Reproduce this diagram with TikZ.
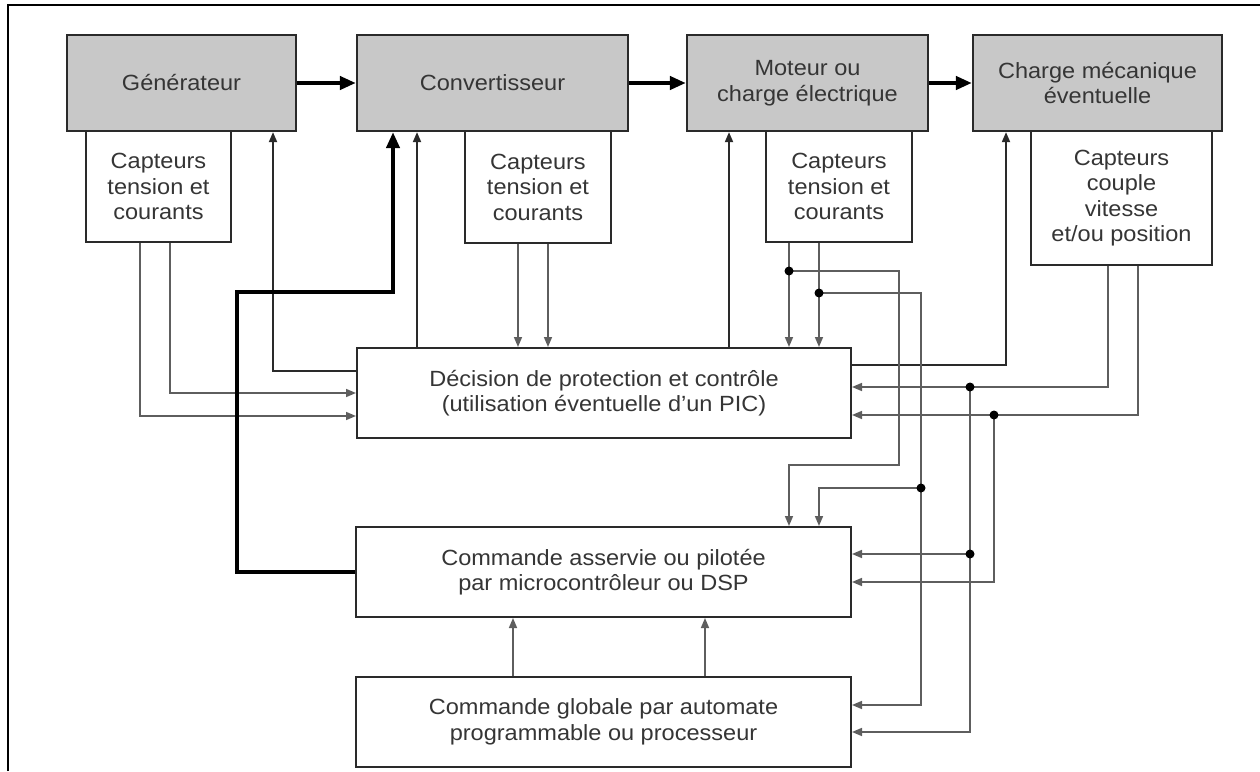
\documentclass[tikz,border=0pt]{standalone}
\usepackage{fontspec}
\setmainfont[FakeStretch=1.07]{Liberation Sans}
\usetikzlibrary{arrows.meta,calc}
\definecolor{boxgray}{HTML}{C8C8C8}
\definecolor{txtgray}{HTML}{353535}
\definecolor{linedark}{HTML}{2A2A2A}
\definecolor{linegray}{HTML}{5E5E5E}
\begin{document}
\begin{tikzpicture}[x=1pt,y=-1pt,
 every node/.style={font=\fontsize{22}{25.5}\selectfont, text=txtgray, align=center, inner sep=0pt},
 gbox/.style={draw=linedark, line width=2.2pt, fill=boxgray},
 wbox/.style={draw=linedark, line width=2pt, fill=white},
 ctl/.style={draw=linedark, line width=1.8pt, -{Triangle[length=10pt,width=8pt]}},
 sen/.style={draw=linegray, line width=1.6pt, -{Triangle[length=10pt,width=8pt]}},
 bigarrow/.style={draw=black, line width=4pt, line join=miter, -{Triangle[length=16pt,width=13pt]}},
 dot/.style={circle, fill=black, minimum size=9pt, inner sep=0pt}
]
\useasboundingbox (0,0) rectangle (1260,771);
\draw[line width=2pt] (8,771) -- (8,5) -- (1260,5);

% sensor boxes
\node[wbox, minimum width=145pt, minimum height=111pt] (gs) at (158.5,186.5) {Capteurs\\tension et\\courants};
\node[wbox, minimum width=146pt, minimum height=112pt] (cs) at (538,187) {Capteurs\\tension et\\courants};
\node[wbox, minimum width=146pt, minimum height=111pt] (ms) at (839,186.5) {Capteurs\\tension et\\courants};
\node[wbox, minimum width=181pt, minimum height=134pt] (chs) at (1121.5,198) {Capteurs\\couple\\vitesse\\et/ou position};

% main gray boxes
\node[gbox, minimum width=229pt, minimum height=96pt] (gen) at (181.5,83) {Générateur};
\node[gbox, minimum width=271pt, minimum height=96pt] (conv) at (492.5,83) {Convertisseur};
\node[gbox, minimum width=241pt, minimum height=96pt] (mot) at (807.5,83) {Moteur ou\\charge électrique};
\node[gbox, minimum width=249pt, minimum height=96pt] (cha) at (1097.5,83) {Charge mécanique\\éventuelle};

% control boxes
\node[wbox, minimum width=494pt, minimum height=90pt] (dec) at (604,393) {Décision de protection et contrôle\\(utilisation éventuelle d'un PIC)};
\node[wbox, minimum width=495pt, minimum height=90pt] (asv) at (603.5,572) {Commande asservie ou pilotée\\par microcontrôleur ou DSP};
\node[wbox, minimum width=495pt, minimum height=90pt] (glob) at (603.5,722) {Commande globale par automate\\programmable ou processeur};

% columns
\coordinate (cA) at (140,0);  \coordinate (cB) at (170,0);
\coordinate (cG) at (273,0);  \coordinate (cT) at (237,0);
\coordinate (cTh) at (393,0); \coordinate (cC) at (417,0);
\coordinate (cD) at (518,0);  \coordinate (cE) at (548,0);
\coordinate (cM) at (729,0);  \coordinate (cF) at (789,0);
\coordinate (cH) at (819,0);  \coordinate (cI) at (899,0);
\coordinate (cJ) at (921,0);  \coordinate (cK) at (970,0);
\coordinate (cL) at (994,0);  \coordinate (cN) at (1006,0);
\coordinate (cO) at (1108,0); \coordinate (cP) at (1138,0);
\coordinate (cQ) at (513,0);  \coordinate (cR) at (705,0);
% rows
\coordinate (rA) at (0,393);  \coordinate (rB) at (0,416);
\coordinate (rG) at (0,371);  \coordinate (rTh) at (0,292);
\coordinate (rF) at (0,271);  \coordinate (rH) at (0,293);
\coordinate (rI) at (0,465);  \coordinate (rJ) at (0,705);
\coordinate (rJ2) at (0,488); \coordinate (rN) at (0,365);
\coordinate (rO) at (0,387);  \coordinate (rP) at (0,415);
\coordinate (rK) at (0,732);  \coordinate (rK2) at (0,554);
\coordinate (rL) at (0,582);

% power chain
\draw[bigarrow] (gen.east) -- (conv.west);
\draw[bigarrow] (conv.east) -- (mot.west);
\draw[bigarrow] (mot.east) -- (cha.west);

% generator sensors
\draw[sen] (gs.south -| cA) |- (dec.west |- rB);
\draw[sen] (gs.south -| cB) |- (dec.west |- rA);
\draw[ctl] (dec.west |- rG) -| (gen.south -| cG);

% thick command to converter
\draw[bigarrow] (asv.west) -- (asv.west -| cT) |- (cTh |- rTh) -- (conv.south -| cTh);

% decision to converter / motor / load
\draw[ctl] (dec.north -| cC) -- (conv.south -| cC);
\draw[ctl] (dec.north -| cM) -- (mot.south -| cM);
\draw[ctl] (dec.east |- rN) -| (cha.south -| cN);

% converter sensors
\draw[sen] (cs.south -| cD) -- (dec.north -| cD);
\draw[sen] (cs.south -| cE) -- (dec.north -| cE);

% motor sensors
\draw[sen] (ms.south -| cF) -- (dec.north -| cF);
\draw[sen] (ms.south -| cH) -- (dec.north -| cH);
\coordinate (j1) at (cF |- rF);
\coordinate (j2) at (cH |- rH);
\coordinate (j3) at (cJ |- rJ2);
\draw[sen] (j1) -| (cI |- rI) -| (asv.north -| cF);
\draw[sen] (j2) -| (cJ |- rJ) -- (glob.east |- rJ);
\draw[sen] (j3) -| (asv.north -| cH);

% load sensors
\draw[sen] (chs.south -| cO) |- (dec.east |- rO);
\draw[sen] (chs.south -| cP) |- (dec.east |- rP);
\coordinate (j4) at (cK |- rO);
\coordinate (j5) at (cL |- rP);
\coordinate (j6) at (cK |- rK2);
\draw[sen] (j4) |- (glob.east |- rK);
\draw[sen] (j6) -- (asv.east |- rK2);
\draw[sen] (j5) |- (asv.east |- rL);

% global to servo
\draw[sen] (glob.north -| cQ) -- (asv.south -| cQ);
\draw[sen] (glob.north -| cR) -- (asv.south -| cR);

% junction dots
\foreach \j in {j1,j2,j3,j4,j5,j6} \node[dot] at (\j) {};
\end{tikzpicture}
\end{document}
